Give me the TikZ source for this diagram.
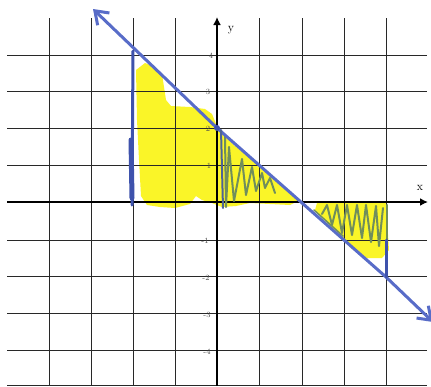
\documentclass[tikz,border=0pt]{standalone}
\usetikzlibrary{arrows.meta}
\definecolor{penblue}{RGB}{88,108,200}
\definecolor{darkpen}{RGB}{62,82,172}
\definecolor{hilite}{RGB}{250,245,40}
\definecolor{hatch}{RGB}{112,142,92}
\definecolor{gridc}{RGB}{40,40,40}
\tikzset{
  gridline/.style={gridc, line width=1pt},
  axisline/.style={black, line width=2pt, -{Latex[length=8pt,width=8pt]}},
  ticklab/.style={font=\fontsize{8}{8}\selectfont, text=black!70, inner sep=0pt},
  axlab/.style={font=\fontsize{12}{12}\selectfont, inner sep=0pt},
  zig/.style={hatch, line width=2pt, line join=round, line cap=round},
  pen/.style={penblue, line width=3pt, line cap=round, line join=round},
  penv/.style={darkpen, line width=3pt, line cap=round},
  penbarb/.tip={Straight Barb[length=12pt, width=17pt, line width=3pt]}
}
\begin{document}
\begin{tikzpicture}[x=1pt,y=-1pt]
\useasboundingbox (0,0) rectangle (431,386);
\fill[white] (0,0) rectangle (431,386);
% yellow highlight, left region
\fill[hilite] (136,70) -- (145,63) -- (155,67) -- (162,74) -- (166,100) -- (171,106)
  -- (190,107) -- (205,109) -- (212,114) -- (216,124) -- (222,134) -- (235,146)
  -- (250,158) -- (265,171) -- (280,184) -- (292,195) -- (298,201) -- (290,205)
  -- (270,204) -- (250,203) -- (236,206) -- (222,207) -- (212,203) -- (202,200)
  -- (196,196) -- (190,204) -- (175,208) -- (160,207) -- (147,205) -- (141,196)
  -- (139,160) -- (137,120) -- cycle;
% yellow highlight, right region
\fill[hilite] (317,203) -- (386,203) -- (389,250) -- (382,258) -- (366,258)
  -- (352,249) -- (340,237) -- (326,222) -- (315,210) -- cycle;
% grid
\foreach \x in {49,91,133,175,259,302,344,386}
  \draw[gridline] (\x,18) -- (\x,386);
\foreach \y in {55,91,128,165,240,276,313,350}
  \draw[gridline] (7,\y) -- (427,\y);
\draw[gridline] (7,385.5) -- (427,385.5);
% axes
\coordinate (ybot) at (217,386);
\coordinate (ytop) at (217,17);
\coordinate (xleft) at (7,202);
\coordinate (xright) at (428,202);
\draw[axisline] (ybot) -- (ytop);
\draw[axisline] (xleft) -- (xright);
\node[axlab] (ylab) at (231,30) {y};
\node[axlab] (xlab) at (420,188) {x};
% tick labels
\node[ticklab] (t4) at (211,56) {4};
\node[ticklab] (t3) at (208,92) {3};
\node[ticklab] (t2) at (208,129) {2};
\node[ticklab] (t1) at (209,166) {1};
\node[ticklab] (tm1) at (205,241) {-1};
\node[ticklab] (tm2) at (206,278) {-2};
\node[ticklab] (tm3) at (207,315) {-3};
\node[ticklab] (tm4) at (207,352) {-4};
% green hatching
\draw[zig] (225,136) -- (226,207) -- (229,147) -- (234,201) -- (242,159) -- (246,195)
  -- (252,167) -- (256,191) -- (262,173) -- (265,188) -- (270,178) -- (275,193);
\draw[zig] (322,214) -- (327,205) -- (332,225) -- (337,205) -- (342,233) -- (347,205)
  -- (352,235) -- (357,205) -- (362,238) -- (366,205) -- (371,242) -- (376,206)
  -- (379,246) -- (383,208);
\draw[zig, line width=2.5pt] (387,205) -- (387,250);
\draw[zig, line width=1.5pt] (314,210) -- (343,236);
% blue pen strokes
\coordinate (ltip) at (93,9);
\coordinate (lmid) at (217,128);
\coordinate (lbend) at (386,277);
\coordinate (rtip) at (433,322);
\draw[pen, {penbarb}-{penbarb}] (ltip) -- (lmid) -- (lbend) -- (rtip);
\coordinate (va) at (133,51);
\coordinate (vb) at (132,205);
\draw[penv] (va) -- (vb);
\draw[penv, line width=5pt] (131,140) -- (132,198);
\coordinate (vc) at (386,240);
\coordinate (vd) at (386,277);
\draw[penv] (vc) -- (vd);
\coordinate (ve) at (221,130);
\coordinate (vf) at (223,208);
\draw[darkpen!70!hatch, line width=2pt, line cap=round] (ve) -- (vf);
\fill[darkpen] (lmid) circle (3pt);
\end{tikzpicture}
\end{document}
